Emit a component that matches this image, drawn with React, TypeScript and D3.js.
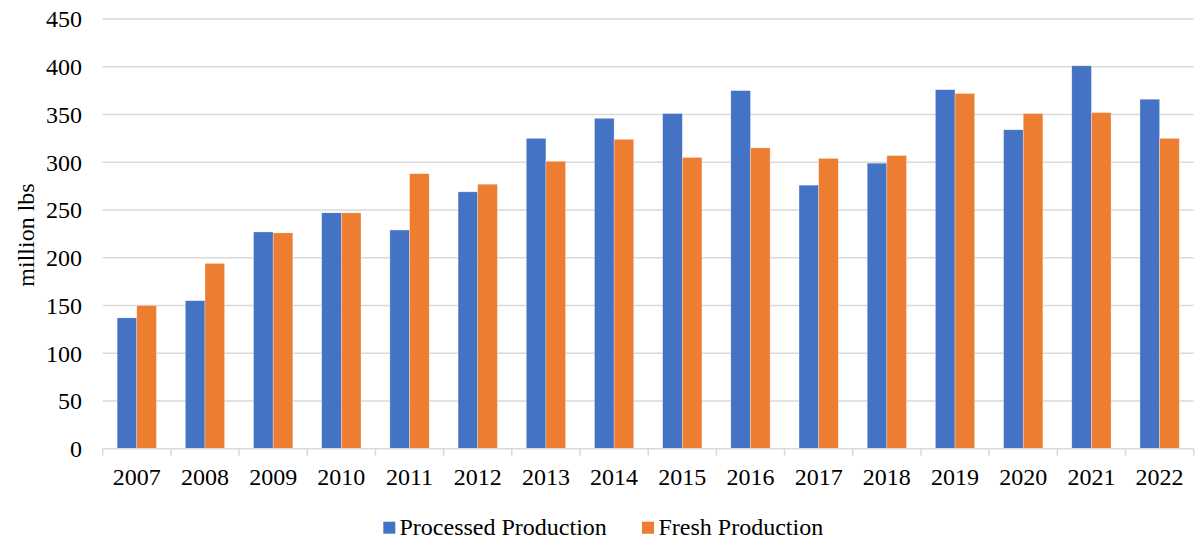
import React from "react";
import * as d3 from "d3";

const years = ["2007","2008","2009","2010","2011","2012","2013","2014","2015","2016","2017","2018","2019","2020","2021","2022"];
const processed = [137, 155, 227, 247, 229, 269, 325, 346, 351, 375, 276, 299, 376, 334, 401, 366];
const fresh = [150, 194, 226, 247, 288, 277, 301, 324, 305, 315, 304, 307, 372, 351, 352, 325];
const seriesNames = ["Processed Production", "Fresh Production"];
const colors = ["#4472C4", "#ED7D31"];
const yTicks = [0, 50, 100, 150, 200, 250, 300, 350, 400, 450];

const W = 1201, H = 550;
const left = 102.7, right = 1193.7, top = 19, bottom = 448.7;
const FONT = "'Liberation Serif', 'Times New Roman', serif";
const FS = 24;

export default function App() {
  const x0 = d3.scaleBand<string>().domain(years).range([left, right]).padding(0);
  const x1 = d3.scaleBand<string>().domain(seriesNames).range([0, x0.step()]).paddingInner(0).paddingOuter(0.735);
  const y = d3.scaleLinear().domain([0, 450]).range([bottom, top]);
  const data = [processed, fresh];
  const boundaries = years.map((yr) => x0(yr)!).concat([right]);

  return (
    <svg width={W} height={H} style={{ position: "absolute", left: 0, top: 0, background: "#fff" }} fontFamily={FONT}>
      {yTicks.map((t) => (
        <g key={t}>
          {t > 0 && <line x1={left} x2={right} y1={y(t)} y2={y(t)} stroke="#d9d9d9" strokeWidth={1.5} />}
          <text x={82} y={y(t)} dy="0.35em" textAnchor="end" fontSize={FS} fill="#000">{t}</text>
        </g>
      ))}
      {years.map((yr, i) => (
        <g key={yr}>
          {data.map((arr, s) => (
            <rect key={s}
              x={x0(yr)! + x1(seriesNames[s])!}
              y={y(arr[i])}
              width={x1.bandwidth()}
              height={y(0) - y(arr[i])}
              fill={colors[s]}
              stroke="#ffffff" strokeOpacity={0.5} strokeWidth={0.6}
            />
          ))}
          <text x={x0(yr)! + x0.bandwidth() / 2} y={485} textAnchor="middle" fontSize={FS} fill="#000">{yr}</text>
        </g>
      ))}
      <line x1={left} x2={right} y1={y(0)} y2={y(0)} stroke="#d9d9d9" strokeWidth={1.5} />
      {boundaries.map((bx, i) => (
        <line key={i} x1={bx} x2={bx} y1={y(0)} y2={455.7} stroke="#d9d9d9" strokeWidth={1.5} />
      ))}
      <text transform={`translate(34,235) rotate(-90)`} textAnchor="middle" fontSize={FS} fill="#000">million lbs</text>
      <g>
        <rect x={383.3} y={521.7} width={12} height={12} fill={colors[0]} />
        <text x={399.5} y={535} fontSize={FS} fill="#000">{seriesNames[0]}</text>
        <rect x={642} y={521.7} width={12} height={12} fill={colors[1]} />
        <text x={658.5} y={535} fontSize={FS} fill="#000">{seriesNames[1]}</text>
      </g>
    </svg>
  );
}
